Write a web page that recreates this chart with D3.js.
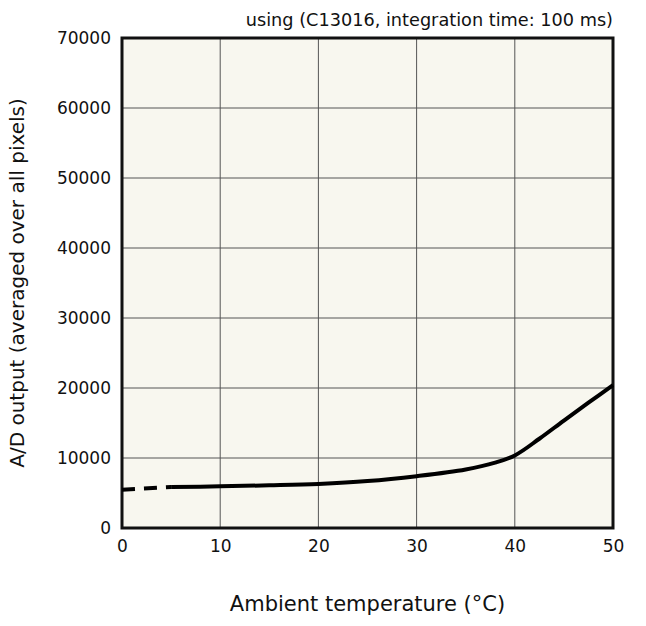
<!DOCTYPE html>
<html>
<head>
<meta charset="utf-8">
<script src="https://cdn.jsdelivr.net/npm/d3@7"></script>
<style>
  body { margin: 0; background: #fff; }
  svg text { font-family: "DejaVu Sans", sans-serif; fill: #111; }
</style>
</head>
<body>
<div id="chart"></div>
<script>
const width = 646;
const height = 626;

// temperature (°C) vs A/D output
const dashedTemp = [0, 5];
const dashedOut = [5480, 5850];
const solidTemp = [5, 10, 15, 20, 25, 30, 35, 38, 40, 42.5, 45, 47.5, 50];
const solidOut = [5850, 5950, 6100, 6300, 6700, 7400, 8350, 9330, 10370, 12750, 15350, 17900, 20400];

const xTicks = [0, 10, 20, 30, 40, 50];
const yTicks = [0, 10000, 20000, 30000, 40000, 50000, 60000, 70000];

const margin = { top: 38, right: 33, bottom: 98, left: 122 };

const svg = d3.select("#chart").append("svg")
    .attr("width", width)
    .attr("height", height);

const xScale = d3.scaleLinear().domain([0, 50])
    .range([margin.left, width - margin.right]);
const yScale = d3.scaleLinear().domain([0, 70000])
    .range([height - margin.bottom, margin.top]);

// plot background
svg.append("rect")
    .attr("x", xScale(0))
    .attr("y", yScale(70000))
    .attr("width", xScale(50) - xScale(0))
    .attr("height", yScale(0) - yScale(70000))
    .attr("fill", "#f8f7ef");

// gridlines
const grid = svg.append("g").attr("class", "gridlines");
grid.selectAll(".vx")
    .data(xTicks.slice(1, -1))
    .join("line")
    .attr("x1", d => xScale(d)).attr("x2", d => xScale(d))
    .attr("y1", yScale(0)).attr("y2", yScale(70000))
    .attr("stroke", "#555").attr("stroke-width", 1);
grid.selectAll(".hy")
    .data(yTicks.slice(1, -1))
    .join("line")
    .attr("x1", xScale(0)).attr("x2", xScale(50))
    .attr("y1", d => yScale(d)).attr("y2", d => yScale(d))
    .attr("stroke", "#555").attr("stroke-width", 1);

// axes (labels only, no ticks)
const xAxis = d3.axisBottom(xScale).tickValues(xTicks).tickSize(0).tickPadding(12);
const yAxis = d3.axisLeft(yScale).tickValues(yTicks).tickSize(0).tickPadding(11)
    .tickFormat(d3.format("d"));

svg.append("g")
    .attr("class", "x-axis")
    .attr("transform", `translate(0, ${yScale(0)})`)
    .call(xAxis)
    .call(g => g.select(".domain").remove())
    .selectAll("text").style("font-size", "17px");

svg.append("g")
    .attr("class", "y-axis")
    .attr("transform", `translate(${xScale(0)}, 0)`)
    .call(yAxis)
    .call(g => g.select(".domain").remove())
    .selectAll("text").style("font-size", "17px");

// frame
svg.append("rect")
    .attr("x", xScale(0))
    .attr("y", yScale(70000))
    .attr("width", xScale(50) - xScale(0))
    .attr("height", yScale(0) - yScale(70000))
    .attr("fill", "none")
    .attr("stroke", "#111")
    .attr("stroke-width", 3);

// curve
const line = d3.line()
    .x(d => xScale(d[0]))
    .y(d => yScale(d[1]))
    .curve(d3.curveCatmullRom);

svg.append("path")
    .datum(dashedTemp.map((t, i) => [t, dashedOut[i]]))
    .attr("d", line)
    .attr("fill", "none")
    .attr("stroke", "#000")
    .attr("stroke-width", 4)
    .attr("stroke-dasharray", "13,9");

svg.append("path")
    .datum(solidTemp.map((t, i) => [t, solidOut[i]]))
    .attr("d", line)
    .attr("fill", "none")
    .attr("stroke", "#000")
    .attr("stroke-width", 4);

// titles
svg.append("text")
    .attr("x", xScale(50))
    .attr("y", 26)
    .attr("text-anchor", "end")
    .style("font-size", "17.7px")
    .text("using (C13016, integration time: 100 ms)");

svg.append("text")
    .attr("transform", `translate(24, ${(yScale(0) + yScale(70000)) / 2}) rotate(-90)`)
    .attr("text-anchor", "middle")
    .style("font-size", "20px")
    .text("A/D output (averaged over all pixels)");

svg.append("text")
    .attr("x", (xScale(0) + xScale(50)) / 2)
    .attr("y", 611)
    .attr("text-anchor", "middle")
    .style("font-size", "21px")
    .text("Ambient temperature (°C)");
</script>
</body>
</html>
